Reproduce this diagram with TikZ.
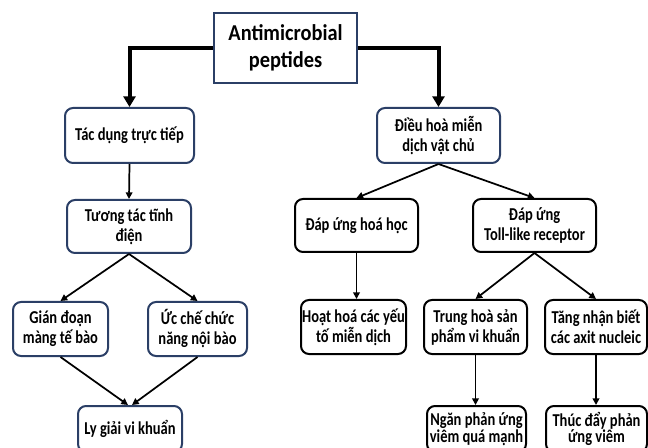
\documentclass[tikz,border=0pt]{standalone}
\usepackage{fontspec}
\setmainfont{Carlito}
\newfontfamily\boxfont{Carlito}[FakeStretch=0.8]
\newfontfamily\rootfont{Carlito}[FakeStretch=0.9]
\usetikzlibrary{arrows.meta}
\definecolor{navy}{HTML}{2B3F66}
\begin{document}
\begin{tikzpicture}[x=0.75pt,y=-0.75pt,
  box/.style={draw=navy,line width=1.5pt,rounded corners=6pt,align=center,
    font=\boxfont\bfseries\fontsize{13.6}{15}\selectfont,inner sep=0pt},
  bbox/.style={box,draw=black},
  rootbox/.style={draw=navy,line width=1.6pt,align=center,inner sep=0pt,
    font=\rootfont\bfseries\fontsize{17}{20.5}\selectfont},
  thick arrow/.style={line width=3pt,-{Triangle[length=8pt,width=9pt]}},
  thin arrow/.style={line width=1.3pt,-{Triangle[length=5pt,width=5pt]}}]
\useasboundingbox (0,0) rectangle (648,448);
\clip (0,0) rectangle (648,448);
\node[rootbox,minimum width=143*0.75pt,minimum height=70*0.75pt] (root) at (285.5,48) {Antimicrobial\\peptides};
\node[box,minimum width=129*0.75pt,minimum height=55*0.75pt] (tac) at (129.5,135.5) {Tác dụng trực tiếp};
\node[box,minimum width=123*0.75pt,minimum height=55*0.75pt] (dieu) at (438.5,135.5) {Điều hoà miễn\\dịch vật chủ};
\node[box,minimum width=124*0.75pt,minimum height=53*0.75pt] (tuong) at (129,226.5) {Tương tác tĩnh\\điện};
\node[box,minimum width=95*0.75pt,minimum height=54*0.75pt] (gian) at (60.5,329) {Gián đoạn\\màng tế bào};
\node[box,minimum width=99*0.75pt,minimum height=54*0.75pt] (uc) at (197.5,329) {Ức chế chức\\năng nội bào};
\node[box,minimum width=104*0.75pt,minimum height=46*0.75pt] (ly) at (130,429) {Ly giải vi khuẩn};
\node[bbox,minimum width=123*0.75pt,minimum height=53*0.75pt] (hoahoc) at (356.5,225.5) {Đáp ứng hoá học};
\node[bbox,minimum width=123*0.75pt,minimum height=53*0.75pt] (toll) at (534.5,225.5) {Đáp ứng\\Toll-like receptor};
\node[bbox,minimum width=105*0.75pt,minimum height=54*0.75pt] (hoathoa) at (353.5,327) {Hoạt hoá các yếu\\tố miễn dịch};
\node[bbox,minimum width=103*0.75pt,minimum height=54*0.75pt] (trung) at (475.5,327) {Trung hoà sản\\phẩm vi khuẩn};
\node[bbox,minimum width=102*0.75pt,minimum height=54*0.75pt] (tang) at (596,327) {Tăng nhận biết\\các axit nucleic};
\node[bbox,minimum width=99*0.75pt,minimum height=46*0.75pt,font=\boxfont\bfseries\fontsize{13.6}{12.5}\selectfont] (ngan) at (476.5,429) {Ngăn phản ứng\\viêm quá mạnh};
\node[bbox,minimum width=101*0.75pt,minimum height=46*0.75pt,font=\boxfont\bfseries\fontsize{13.6}{12.5}\selectfont] (thuc) at (596.5,429) {Thúc đẩy phản\\ứng viêm};
% thick arrows
\draw[thick arrow] (root.west) -| (tac.north);
\draw[thick arrow] (root.east) -| (dieu.north);
% thin arrows
\draw[thin arrow] (tac.south) -- (tuong.north);
\draw[thin arrow] (tuong.south) -- (gian.north);
\draw[thin arrow] (tuong.south) -- (uc.north);
\draw[thin arrow] (gian.south) -- ([xshift=-1.5pt]ly.north);
\draw[thin arrow] (uc.south) -- ([xshift=1.5pt]ly.north);
\draw[thin arrow] (dieu.south) -- (hoahoc.north);
\draw[thin arrow] (dieu.south) -- (toll.north);
\draw[thin arrow] (hoahoc.south) -- (hoahoc.south |- hoathoa.north);
\draw[thin arrow] (toll.south) -- (trung.north);
\draw[thin arrow] (toll.south) -- (tang.north);
\draw[thin arrow] (trung.south) -- (trung.south |- ngan.north);
\draw[thin arrow] (tang.south) -- (tang.south |- thuc.north);
\end{tikzpicture}
\end{document}
